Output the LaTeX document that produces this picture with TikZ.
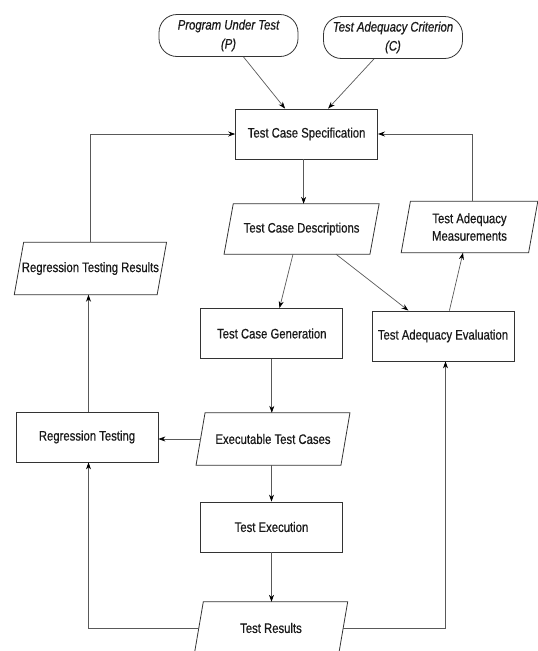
\documentclass[tikz,border=0pt]{standalone}
\usepackage{fontspec}
\setmainfont[FakeStretch=0.82,FakeBold=0.6]{Liberation Sans}
\usetikzlibrary{arrows.meta}
\newcommand\paraoutline[2]{\draw[paraline] ([xshift=#2]#1.north west) -- ([xshift=#2]#1.north east) -- ([xshift=-#2]#1.south east) -- ([xshift=-#2]#1.south west) -- cycle;}
\begin{document}
\begin{tikzpicture}[x=1pt,y=-1pt,
  every node/.style={font=\fontsize{13.8}{17.5}\selectfont, text=black!90, align=center},
  box/.style={draw=black!80, line width=0.8pt, minimum width=142pt, minimum height=50pt, inner sep=0pt},
  term/.style={draw=black!80, line width=0.8pt, rounded corners=18pt, minimum width=139pt, minimum height=42pt, inner sep=0pt, font=\fontsize{13.8}{19}\selectfont\itshape},
  para/.style={minimum height=52pt, inner sep=0pt},
  paraline/.style={draw=black!80, line width=0.8pt},
  conn/.style={draw=black!65, line width=0.7pt, -{Stealth[length=7pt,width=5pt,black]}}]
\useasboundingbox (0,0) rectangle (538,651);
\node[term] (p) at (228.5,35.5) {Program Under Test\\(P)};
\node[term] (c) at (393,37.5) {Test Adequacy Criterion\\(C)};
\node[box] (tcs) at (306.6,134) {Test Case Specification};
\node[para, minimum width=145.5pt, minimum height=50pt] (tcd) at (301.6,229) {Test Case Descriptions};
\node[para, minimum width=127pt, minimum height=51pt] (tam) at (469.5,227) {Test Adequacy\\Measurements};
\node[para, minimum width=142.5pt] (rtr) at (90.4,268.5) {Regression Testing Results};
\node[box] (tcg) at (271.8,333.5) {Test Case Generation};
\node[box] (tae) at (443,336) {Test Adequacy Evaluation};
\node[para, minimum width=144.5pt] (etc) at (273,439) {Executable Test Cases};
\node[box] (rt) at (87,437) {Regression Testing};
\node[box] (te) at (271.5,527) {Test Execution};
\node[para, minimum width=144pt] (tr) at (271,628) {Test Results};
\paraoutline{tcd}{4.6pt}
\paraoutline{tam}{4.6pt}
\paraoutline{rtr}{4.7pt}
\paraoutline{etc}{4.5pt}
\paraoutline{tr}{4.5pt}
\draw[conn] ([xshift=15pt]p.south) -- ([xshift=-21.5pt]tcs.north);
\draw[conn] ([xshift=-19pt]c.south) -- ([xshift=21.5pt]tcs.north);
\draw[conn] ([xshift=-3pt]tcs.south) -- ([xshift=2pt]tcd.north);
\draw[conn] ([xshift=-8.6pt]tcd.south) -- ([xshift=7.7pt]tcg.north);
\draw[conn] ([xshift=34.4pt]tcd.south) -- ([xshift=-34.6pt]tae.north);
\draw[conn] ([xshift=6.4pt]tae.north) -- ([xshift=-6.5pt]tam.south);
\draw[conn] ([xshift=2.5pt]tam.north) |- (tcs.east);
\draw[conn] (rtr.north) |- (tcs.west);
\draw[conn] (tcg.south) -- (tcg.south |- etc.north);
\draw[conn] (etc.west) -- (etc.west -| rt.east);
\draw[conn] ([xshift=1.5pt]rt.north) -- ([xshift=1.5pt]rt.north |- rtr.south);
\draw[conn] (te.north |- etc.south) -- (te.north);
\draw[conn] (te.south) -- (te.south |- tr.north);
\draw[conn] (tr.west) -| ([xshift=1.5pt]rt.south);
\draw[conn] (tr.east) -| ([xshift=2.5pt]tae.south);
\end{tikzpicture}
\end{document}
